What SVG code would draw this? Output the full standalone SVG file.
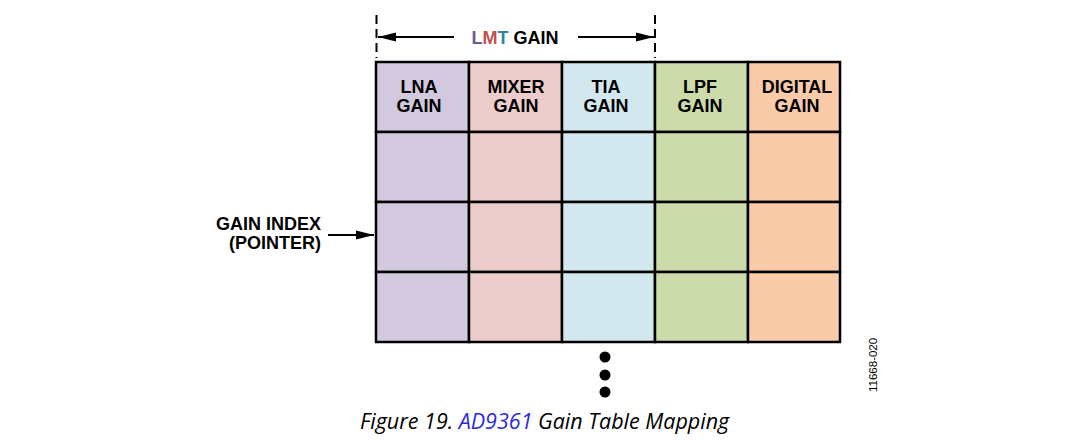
<svg xmlns="http://www.w3.org/2000/svg" width="1076" height="446" viewBox="0 0 1076 446">
<style>
.lbl{font-family:"Liberation Sans",Arial,sans-serif;font-weight:bold;font-size:18px;fill:#000;}
.cell{stroke:#000;stroke-width:2.5;}
.c1{fill:#d3c9df;}.c2{fill:#edcdcb;}.c3{fill:#d2e8ee;}.c4{fill:#cddaa9;}.c5{fill:#f9cba9;}
.conn{stroke:#000;stroke-width:2;fill:none;}
</style>
<defs>
<marker id="ah2" viewBox="0 0 20 10" refX="20" refY="5" markerWidth="18" markerHeight="10" markerUnits="userSpaceOnUse" orient="auto">
<path d="M0,0 L20,5 L0,10 Z" fill="#000"/>
</marker>
</defs>
<rect width="1076" height="446" fill="#fff"/>
<g id="grid">
<g id="col-lna">
<rect class="cell c1" x="376" y="62" width="93" height="70"/>
<rect class="cell c1" x="376" y="132" width="93" height="70"/>
<rect class="cell c1" x="376" y="202" width="93" height="70"/>
<rect class="cell c1" x="376" y="272" width="93" height="70"/>
<text class="lbl" x="419" y="93" text-anchor="middle">LNA</text>
<text class="lbl" x="419" y="112" text-anchor="middle">GAIN</text>
</g>
<g id="col-mixer">
<rect class="cell c2" x="469" y="62" width="93" height="70"/>
<rect class="cell c2" x="469" y="132" width="93" height="70"/>
<rect class="cell c2" x="469" y="202" width="93" height="70"/>
<rect class="cell c2" x="469" y="272" width="93" height="70"/>
<text class="lbl" x="516" y="93" text-anchor="middle">MIXER</text>
<text class="lbl" x="516" y="112" text-anchor="middle">GAIN</text>
</g>
<g id="col-tia">
<rect class="cell c3" x="562" y="62" width="93" height="70"/>
<rect class="cell c3" x="562" y="132" width="93" height="70"/>
<rect class="cell c3" x="562" y="202" width="93" height="70"/>
<rect class="cell c3" x="562" y="272" width="93" height="70"/>
<text class="lbl" x="606" y="93" text-anchor="middle">TIA</text>
<text class="lbl" x="606" y="112" text-anchor="middle">GAIN</text>
</g>
<g id="col-lpf">
<rect class="cell c4" x="655" y="62" width="93" height="70"/>
<rect class="cell c4" x="655" y="132" width="93" height="70"/>
<rect class="cell c4" x="655" y="202" width="93" height="70"/>
<rect class="cell c4" x="655" y="272" width="93" height="70"/>
<text class="lbl" x="700" y="93" text-anchor="middle">LPF</text>
<text class="lbl" x="700" y="112" text-anchor="middle">GAIN</text>
</g>
<g id="col-digital">
<rect class="cell c5" x="748" y="62" width="92" height="70"/>
<rect class="cell c5" x="748" y="132" width="92" height="70"/>
<rect class="cell c5" x="748" y="202" width="92" height="70"/>
<rect class="cell c5" x="748" y="272" width="92" height="70"/>
<text class="lbl" x="797" y="93" text-anchor="middle">DIGITAL</text>
<text class="lbl" x="797" y="112" text-anchor="middle">GAIN</text>
</g>
</g>
<g id="lmt-label">
<text class="lbl" x="515" y="44" text-anchor="middle"><tspan fill="#6b5b95">L</tspan><tspan fill="#c0504d">M</tspan><tspan fill="#31849b">T</tspan> GAIN</text>
</g>
<g id="gain-index">
<text class="lbl" x="321" y="230" text-anchor="end">GAIN INDEX</text>
<text class="lbl" x="321" y="249" text-anchor="end">(POINTER)</text>
</g>
<g id="connectors">
<line class="conn" x1="376.5" y1="15" x2="376.5" y2="58" stroke-dasharray="9,5"/>
<line class="conn" x1="655" y1="15" x2="655" y2="58" stroke-dasharray="9,5"/>
<line class="conn" x1="454" y1="37" x2="378" y2="37" marker-end="url(#ah2)"/>
<line class="conn" x1="578" y1="37" x2="654" y2="37" marker-end="url(#ah2)"/>
<line class="conn" x1="328" y1="235" x2="374" y2="235" marker-end="url(#ah2)"/>
</g>
<g id="dots">
<circle cx="605" cy="357" r="5.5" fill="#000"/>
<circle cx="605" cy="375" r="5.5" fill="#000"/>
<circle cx="605" cy="392" r="5.5" fill="#000"/>
</g>
<text x="877" y="392" transform="rotate(-90 877 392)" font-family="'Liberation Sans',Arial,sans-serif" font-size="11.5" fill="#000">11668-020</text>
<text x="360" y="429" font-family="'Open Sans','Liberation Sans',sans-serif" font-style="italic" font-size="21.5" fill="#000">Figure 19. <tspan fill="#2b2bdc">AD9361</tspan> Gain Table Mapping</text>
</svg>
